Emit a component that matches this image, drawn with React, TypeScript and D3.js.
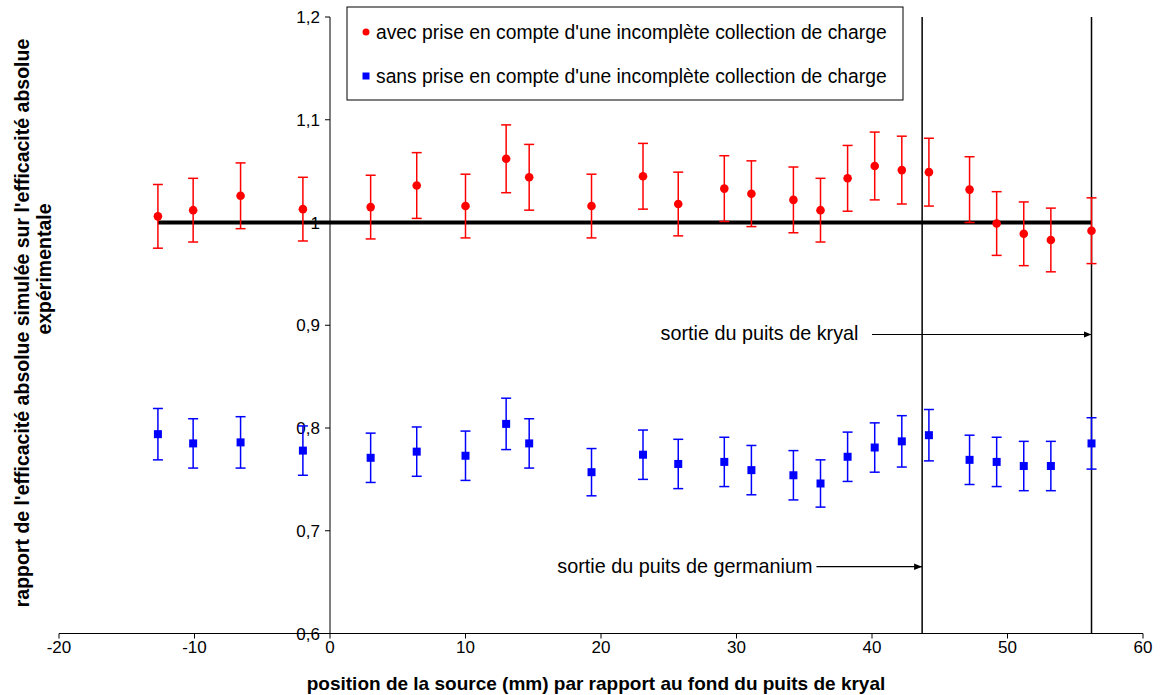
import React from "react";
import * as d3 from "d3";

const positions = [-12.7, -10.1, -6.6, -2.0, 3.0, 6.4, 10.0, 13.0, 14.7, 19.3, 23.1, 25.7, 29.1, 31.1, 34.2, 36.2, 38.2, 40.2, 42.2, 44.2, 47.2, 49.2, 51.2, 53.2, 56.2];
const avecValues = [1.006, 1.012, 1.026, 1.013, 1.015, 1.036, 1.016, 1.062, 1.044, 1.016, 1.045, 1.018, 1.033, 1.028, 1.022, 1.012, 1.043, 1.055, 1.051, 1.049, 1.032, 0.999, 0.989, 0.983, 0.992];
const avecErrors = [0.031, 0.031, 0.032, 0.031, 0.031, 0.032, 0.031, 0.033, 0.032, 0.031, 0.032, 0.031, 0.032, 0.032, 0.032, 0.031, 0.032, 0.033, 0.033, 0.033, 0.032, 0.031, 0.031, 0.031, 0.032];
const sansValues = [0.794, 0.785, 0.786, 0.778, 0.771, 0.777, 0.773, 0.804, 0.785, 0.757, 0.774, 0.765, 0.767, 0.759, 0.754, 0.746, 0.772, 0.781, 0.787, 0.793, 0.769, 0.767, 0.763, 0.763, 0.785];
const sansErrors = [0.025, 0.024, 0.025, 0.024, 0.024, 0.024, 0.024, 0.025, 0.024, 0.023, 0.024, 0.024, 0.024, 0.024, 0.024, 0.023, 0.024, 0.024, 0.025, 0.025, 0.024, 0.024, 0.024, 0.024, 0.025];
const xTicks = [-20, -10, 0, 10, 20, 30, 40, 50, 60];
const yTicks = [0.6, 0.7, 0.8, 0.9, 1.0, 1.1, 1.2];
const referenceValue = 1.0;
const wellLimits = [43.7, 56.2];
const legendLabels = [
  "avec prise en compte d'une incomplète collection de charge",
  "sans prise en compte d'une incomplète collection de charge",
];
const annotations = [
  { label: "sortie du puits de kryal", y: 0.891, textEnd: 39.0, x0: 40.0, x1: 56.2 },
  { label: "sortie du puits de germanium", y: 0.665, textEnd: 35.6, x0: 35.9, x1: 43.7 },
];
const xTitle = "position de la source (mm) par rapport au fond du puits de kryal";
const yTitleLines = ["rapport de l'efficacité absolue simulée sur l'efficacité absolue", "expérimentale"];

const W = 1163;
const H = 695;
const FONT = "Liberation Sans, Arial, sans-serif";

export default function App() {
  const x = d3.scaleLinear().domain([-20, 60]).range([59, 1143]);
  const y = d3.scaleLinear().domain([0.6, 1.2]).range([633.5, 17]);
  const fmt = (v: number) => (v === 1 ? "1" : d3.format(".1f")(v).replace(".", ","));
  const cap = 5;

  return (
    <svg width={W} height={H} style={{ position: "absolute", left: 0, top: 0, background: "#fff" }} fontFamily={FONT}>
      <rect x={0} y={0} width={W} height={H} fill="#fff" />
      {/* axes */}
      <line x1={x(-20)} x2={x(60)} y1={y(0.6)} y2={y(0.6)} stroke="#000" strokeWidth={1} />
      <line x1={x(0)} x2={x(0)} y1={y(0.6)} y2={y(1.2)} stroke="#000" strokeWidth={1} />
      {xTicks.map((t) => (
        <g key={"xt" + t}>
          <line x1={x(t)} x2={x(t)} y1={y(0.6)} y2={y(0.6) + 5} stroke="#000" />
          <text x={x(t)} y={y(0.6) + 19} textAnchor="middle" fontSize={17} fill="#000">{t}</text>
        </g>
      ))}
      {yTicks.map((t) => (
        <g key={"yt" + t}>
          <line x1={x(0) - 5} x2={x(0)} y1={y(t)} y2={y(t)} stroke="#000" />
          <text x={x(0) - 10} y={y(t) + 6} textAnchor="end" fontSize={17} fill="#000">{fmt(t)}</text>
        </g>
      ))}
      {/* vertical limits */}
      {wellLimits.map((v) => (
        <line key={"wl" + v} x1={x(v)} x2={x(v)} y1={y(1.2)} y2={y(0.6)} stroke="#000" strokeWidth={1.5} />
      ))}
      {/* reference line */}
      <line x1={x(positions[0])} x2={x(positions[positions.length - 1])} y1={y(referenceValue)} y2={y(referenceValue)} stroke="#000" strokeWidth={4} />
      {/* red series */}
      {positions.map((p, i) => (
        <g key={"r" + i} stroke="#ff0000" strokeWidth={1.5}>
          <line x1={x(p)} x2={x(p)} y1={y(avecValues[i] + avecErrors[i])} y2={y(avecValues[i] - avecErrors[i])} />
          <line x1={x(p) - cap} x2={x(p) + cap} y1={y(avecValues[i] + avecErrors[i])} y2={y(avecValues[i] + avecErrors[i])} />
          <line x1={x(p) - cap} x2={x(p) + cap} y1={y(avecValues[i] - avecErrors[i])} y2={y(avecValues[i] - avecErrors[i])} />
          <circle cx={x(p)} cy={y(avecValues[i])} r={4.3} fill="#ff0000" stroke="none" />
        </g>
      ))}
      {/* blue series */}
      {positions.map((p, i) => (
        <g key={"b" + i} stroke="#0000ff" strokeWidth={1.5}>
          <line x1={x(p)} x2={x(p)} y1={y(sansValues[i] + sansErrors[i])} y2={y(sansValues[i] - sansErrors[i])} />
          <line x1={x(p) - cap} x2={x(p) + cap} y1={y(sansValues[i] + sansErrors[i])} y2={y(sansValues[i] + sansErrors[i])} />
          <line x1={x(p) - cap} x2={x(p) + cap} y1={y(sansValues[i] - sansErrors[i])} y2={y(sansValues[i] - sansErrors[i])} />
          <rect x={x(p) - 4} y={y(sansValues[i]) - 4} width={8} height={8} fill="#0000ff" stroke="none" />
        </g>
      ))}
      {/* annotations */}
      <defs>
        <marker id="arr" viewBox="0 0 10 10" refX={10} refY={5} markerWidth={8} markerHeight={8} markerUnits="userSpaceOnUse" orient="auto">
          <path d="M0,1 L10,5 L0,9 Z" fill="#000" />
        </marker>
      </defs>
      {annotations.map((a) => (
        <g key={a.label}>
          <text x={x(a.textEnd)} y={y(a.y) + 6} textAnchor="end" fontSize={19.8} fill="#000">{a.label}</text>
          <line x1={x(a.x0)} x2={x(a.x1)} y1={y(a.y)} y2={y(a.y)} stroke="#000" strokeWidth={1.2} markerEnd="url(#arr)" />
        </g>
      ))}
      {/* legend */}
      <rect x={347} y={7} width={556} height={93} fill="#fff" stroke="#000" strokeWidth={1} />
      <circle cx={366} cy={32} r={3.5} fill="#ff0000" />
      <text x={376} y={39} fontSize={19.3} fill="#000">{legendLabels[0]}</text>
      <rect x={362.5} y={72.5} width={7} height={7} fill="#0000ff" />
      <text x={376} y={83} fontSize={19.3} fill="#000">{legendLabels[1]}</text>
      {/* titles */}
      <text x={596} y={690} textAnchor="middle" fontSize={19} fontWeight="bold" fill="#000">{xTitle}</text>
      <text transform="translate(29,323) rotate(-90)" textAnchor="middle" fontSize={19.5} fontWeight="bold" fill="#000">{yTitleLines[0]}</text>
      <text transform="translate(51,269) rotate(-90)" textAnchor="middle" fontSize={19.5} fontWeight="bold" fill="#000">{yTitleLines[1]}</text>
    </svg>
  );
}
